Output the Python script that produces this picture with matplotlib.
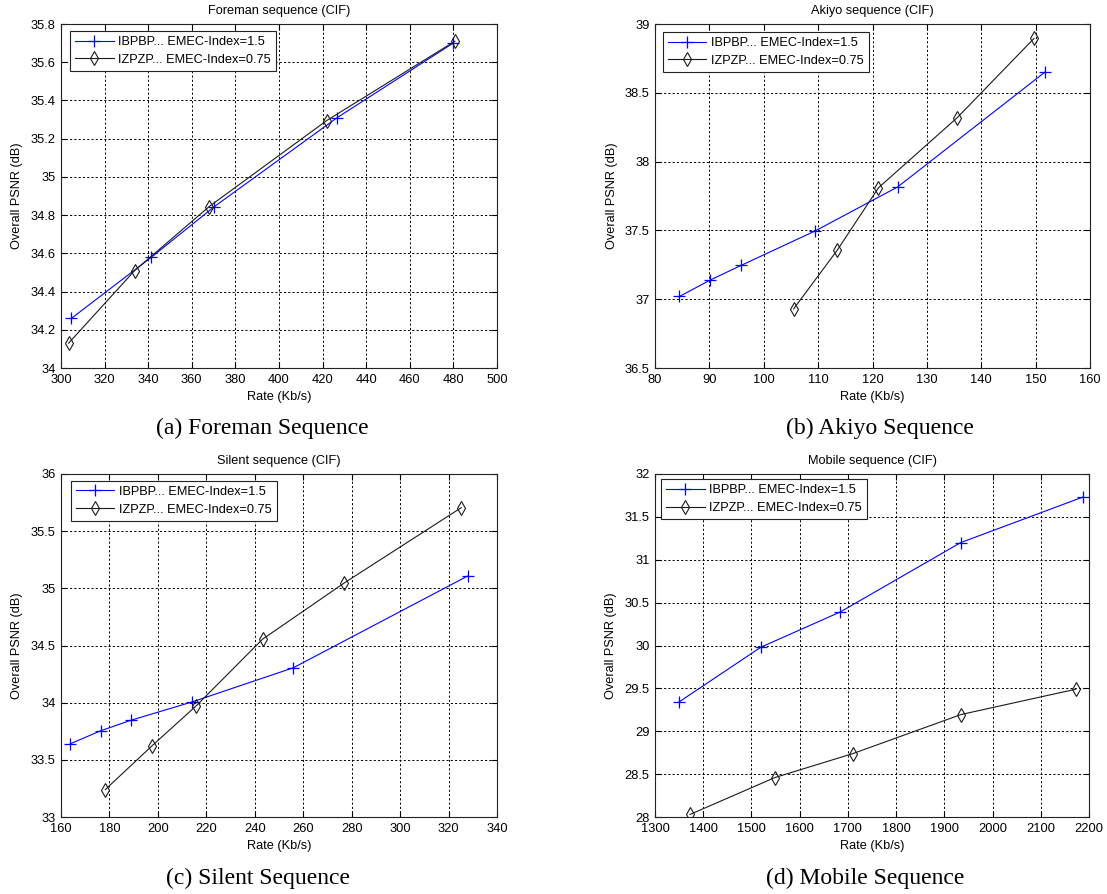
import matplotlib
matplotlib.use("Agg")
import matplotlib.pyplot as plt
from matplotlib.ticker import FixedLocator, FixedFormatter

plt.rcParams['font.family'] = ['Liberation Sans', 'DejaVu Sans']

# ---------------- data ----------------
titles = ["Foreman sequence (CIF)", "Akiyo sequence (CIF)",
          "Silent sequence (CIF)", "Mobile sequence (CIF)"]
captions = ["(a) Foreman Sequence", "(b) Akiyo Sequence",
            "(c) Silent Sequence", "(d) Mobile Sequence"]
legend_labels = ["IBPBP... EMEC-Index=1.5", "IZPZP... EMEC-Index=0.75"]

# Foreman
foreman_ib_x = [304.8, 341.5, 370.4, 426.7, 479.9]
foreman_ib_y = [34.26, 34.58, 34.845, 35.31, 35.70]
foreman_iz_x = [303.5, 333.8, 368.0, 421.9, 480.7]
foreman_iz_y = [34.13, 34.51, 34.845, 35.295, 35.71]

# Akiyo
akiyo_ib_x = [84.5, 90.2, 95.8, 109.4, 124.6, 151.7]
akiyo_ib_y = [37.02, 37.14, 37.245, 37.495, 37.815, 38.65]
akiyo_iz_x = [105.5, 113.5, 121.1, 135.6, 149.7]
akiyo_iz_y = [36.93, 37.355, 37.81, 38.32, 38.895]

# Silent
silent_ib_x = [163.8, 176.5, 188.7, 214.2, 255.9, 328.1]
silent_ib_y = [33.64, 33.755, 33.845, 34.007, 34.305, 35.11]
silent_iz_x = [178.3, 197.7, 215.7, 243.2, 276.8, 325.2]
silent_iz_y = [33.24, 33.625, 33.97, 34.555, 35.045, 35.705]

# Mobile
mobile_ib_x = [1349.4, 1519.5, 1683.8, 1933.9, 2186.9]
mobile_ib_y = [29.34, 29.98, 30.39, 31.20, 31.73]
mobile_iz_x = [1372.7, 1548.6, 1710.7, 1934.6, 2172.3]
mobile_iz_y = [28.03, 28.46, 28.74, 29.195, 29.49]

# ticks
foreman_xticks = [300, 320, 340, 360, 380, 400, 420, 440, 460, 480, 500]
foreman_yticks = [34, 34.2, 34.4, 34.6, 34.8, 35, 35.2, 35.4, 35.6, 35.8]
foreman_yticklabels = ["34", "34.2", "34.4", "34.6", "34.8", "35", "35.2", "35.4", "35.6", "35.8"]
akiyo_xticks = [80, 90, 100, 110, 120, 130, 140, 150, 160]
akiyo_yticks = [36.5, 37, 37.5, 38, 38.5, 39]
akiyo_yticklabels = ["36.5", "37", "37.5", "38", "38.5", "39"]
silent_xticks = [160, 180, 200, 220, 240, 260, 280, 300, 320, 340]
silent_yticks = [33, 33.5, 34, 34.5, 35, 35.5, 36]
silent_yticklabels = ["33", "33.5", "34", "34.5", "35", "35.5", "36"]
mobile_xticks = [1300, 1400, 1500, 1600, 1700, 1800, 1900, 2000, 2100, 2200]
mobile_yticks = [28, 28.5, 29, 29.5, 30, 30.5, 31, 31.5, 32]
mobile_yticklabels = ["28", "28.5", "29", "29.5", "30", "30.5", "31", "31.5", "32"]

W, H = 1107, 894
fig = plt.figure(figsize=(W / 100, H / 100), dpi=100)
fig.patch.set_facecolor('white')


def px_rect(l, t, r, b):
    return [l / W, 1 - b / H, (r - l) / W, (b - t) / H]


panels = [
    dict(rect=px_rect(61, 24, 497, 368), ib=(foreman_ib_x, foreman_ib_y),
         iz=(foreman_iz_x, foreman_iz_y), xt=foreman_xticks, yt=foreman_yticks,
         ytl=foreman_yticklabels, leg=(0.021, 0.980)),
    dict(rect=px_rect(655, 24, 1090, 368), ib=(akiyo_ib_x, akiyo_ib_y),
         iz=(akiyo_iz_x, akiyo_iz_y), xt=akiyo_xticks, yt=akiyo_yticks,
         ytl=akiyo_yticklabels, leg=(0.018, 0.977)),
    dict(rect=px_rect(61, 474, 497, 817), ib=(silent_ib_x, silent_ib_y),
         iz=(silent_iz_x, silent_iz_y), xt=silent_xticks, yt=silent_yticks,
         ytl=silent_yticklabels, leg=(0.023, 0.980)),
    dict(rect=px_rect(655, 474, 1089, 817), ib=(mobile_ib_x, mobile_ib_y),
         iz=(mobile_iz_x, mobile_iz_y), xt=mobile_xticks, yt=mobile_yticks,
         ytl=mobile_yticklabels, leg=(0.014, 0.985)),
]

caption_pos = [(262, 428), (880, 428), (258, 878), (865, 878)]

for i, p in enumerate(panels):
    ax = fig.add_axes(p['rect'])
    ax.plot(p['ib'][0], p['ib'][1], color='#0000ff', lw=0.8, marker='+',
            markersize=8, mew=0.9, label=legend_labels[0])
    ax.plot(p['iz'][0], p['iz'][1], color='#1a1a1a', lw=0.8, marker='d',
            markersize=7.5, mfc='none', mew=0.8, label=legend_labels[1])
    ax.set_xlim(p['xt'][0], p['xt'][-1])
    ax.set_ylim(p['yt'][0], p['yt'][-1])
    ax.xaxis.set_major_locator(FixedLocator(p['xt']))
    ax.xaxis.set_major_formatter(FixedFormatter([str(v) for v in p['xt']]))
    ax.yaxis.set_major_locator(FixedLocator(p['yt']))
    ax.yaxis.set_major_formatter(FixedFormatter(p['ytl']))
    ax.tick_params(direction='in', length=4, width=0.8, top=True, right=True,
                   labelsize=9.3, pad=4, colors='black')
    ax.grid(True, color='black', linestyle=(0, (2.2, 2.2)), linewidth=0.7)
    for s in ax.spines.values():
        s.set_linewidth(0.8)
        s.set_color('#222222')
    ax.set_title(titles[i], fontsize=9.2, pad=7)
    ax.set_xlabel("Rate (Kb/s)", fontsize=9.2, labelpad=4)
    ax.set_ylabel("Overall PSNR (dB)", fontsize=9.2, labelpad=5)
    leg = ax.legend(loc='upper left', bbox_to_anchor=p['leg'], borderaxespad=0,
                    fancybox=False, framealpha=1, edgecolor='#222222',
                    fontsize=9.2, handlelength=3.0, handletextpad=0.35,
                    labelspacing=0.45, borderpad=0.4)
    leg.get_frame().set_linewidth(0.8)
    cx, cy = caption_pos[i]
    fig.text(cx / W, 1 - cy / H, captions[i], ha='center', va='center',
             fontsize=17, family=['Liberation Serif', 'DejaVu Serif'])

fig.savefig("out.png", dpi=100, facecolor='white')
